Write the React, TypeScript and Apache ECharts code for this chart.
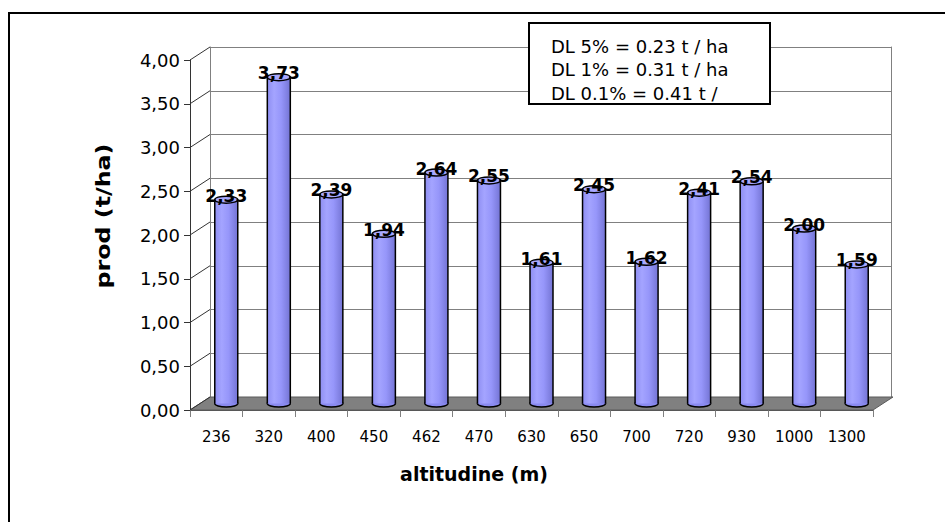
import React, { useEffect, useRef } from "react";
import * as echarts from "echarts";

const categories = ["236", "320", "400", "450", "462", "470", "630", "650", "700", "720", "930", "1000", "1300"];
const values = [2.33, 3.73, 2.39, 1.94, 2.64, 2.55, 1.61, 2.45, 1.62, 2.41, 2.54, 2.0, 1.59];
const yTicks = [0, 0.5, 1, 1.5, 2, 2.5, 3, 3.5, 4];
const dlLines = ["DL 5% = 0.23 t / ha", "DL 1% = 0.31 t / ha", "DL 0.1% = 0.41 t /"];
const xTitle = "altitudine (m)";
const yTitle = "prod (t/ha)";

const DX = 20;
const DY = -13;
const FONT = "DejaVu Sans";

const fmt = (v: number) => v.toFixed(2).replace(".", ",");

export default function App() {
  const ref = useRef<HTMLDivElement>(null);
  useEffect(() => {
    if (!ref.current) return;
    const chart = echarts.init(ref.current, undefined, { renderer: "svg" });
    const bodyGrad = new echarts.graphic.LinearGradient(0, 0, 1, 0, [
      { offset: 0, color: "#8e8ef2" },
      { offset: 0.3, color: "#a4a4ff" },
      { offset: 0.6, color: "#9696fa" },
      { offset: 1, color: "#7474d4" },
    ]);
    const option: any = {
      animation: false,
      grid: [
        { left: 190, top: 60, width: 683, height: 350 },
        { left: 210, top: 47, width: 681, height: 350 },
      ],
      xAxis: [
        {
          type: "category",
          gridIndex: 0,
          data: categories,
          axisLine: { show: true, lineStyle: { color: "#555", width: 1 } },
          axisTick: { show: true, length: 7, lineStyle: { color: "#808080" } },
          axisLabel: { color: "#000", fontFamily: FONT, fontSize: 15, margin: 19, interval: 0 },
          splitLine: { show: false },
        },
        { type: "category", gridIndex: 1, data: categories, show: false },
      ],
      yAxis: [
        {
          type: "value",
          gridIndex: 0,
          min: 0,
          max: 4,
          interval: 0.5,
          axisLine: { show: true, lineStyle: { color: "#333" } },
          axisTick: { show: true, length: 6, lineStyle: { color: "#333" } },
          axisLabel: { color: "#000", fontFamily: FONT, fontSize: 18, margin: 10, formatter: (v: number) => fmt(v) },
          splitLine: { show: false },
        },
        {
          type: "value",
          gridIndex: 1,
          min: 0,
          max: 4,
          interval: 0.5,
          axisLine: { show: true, lineStyle: { color: "#808080" } },
          axisTick: { show: false },
          axisLabel: { show: false },
          splitLine: { show: true, lineStyle: { color: "#808080", width: 1 } },
        },
        {
          type: "value",
          gridIndex: 1,
          position: "right",
          min: 0,
          max: 4,
          interval: 0.5,
          axisLine: { show: true, lineStyle: { color: "#808080" } },
          axisTick: { show: false },
          axisLabel: { show: false },
          splitLine: { show: false },
        },
      ],
      series: [
        {
          type: "custom",
          xAxisIndex: 0,
          yAxisIndex: 0,
          data: [[0, 0]],
          z: 3,
          silent: true,
          renderItem: (params: any, api: any) => {
            const p0 = api.coord([0, 0]);
            const pN = api.coord([categories.length - 1, 0]);
            const bw = api.size([1, 0])[0];
            const xl = p0[0] - bw / 2;
            const xr = pN[0] + bw / 2;
            const y0 = p0[1];
            const children: any[] = [
              {
                type: "polygon",
                shape: { points: [[xl, y0], [xr, y0], [xr + DX, y0 + DY], [xl + DX, y0 + DY]] },
                style: { fill: "#808080", stroke: "#5a5a5a", lineWidth: 1 },
              },
            ];
            yTicks.forEach((t) => {
              const y = api.coord([0, t])[1];
              children.push({
                type: "line",
                shape: { x1: xl, y1: y, x2: xl + DX, y2: y + DY },
                style: { stroke: "#333", lineWidth: 1 },
              });
            });
            return { type: "group", children };
          },
        },
        {
          type: "custom",
          xAxisIndex: 0,
          yAxisIndex: 0,
          data: values.map((v, i) => [i, v]),
          z: 4,
          renderItem: (params: any, api: any) => {
            const i = api.value(0);
            const v = api.value(1);
            const base = api.coord([i, 0]);
            const top = api.coord([i, v]);
            const cx = base[0] + DX / 2;
            const yb = base[1] + DY / 2;
            const yt = top[1] + DY / 2;
            const w = 23;
            const rx = w / 2;
            const ry = 3.5;
            return {
              type: "group",
              children: [
                { type: "ellipse", shape: { cx, cy: yb, rx, ry }, style: { fill: "#8a8af0", stroke: "#000", lineWidth: 1.5 } },
                { type: "rect", shape: { x: cx - rx, y: yt, width: w, height: yb - yt }, style: { fill: bodyGrad } },
                { type: "line", shape: { x1: cx - rx, y1: yt, x2: cx - rx, y2: yb }, style: { stroke: "#000", lineWidth: 1.5 } },
                { type: "line", shape: { x1: cx + rx, y1: yt, x2: cx + rx, y2: yb }, style: { stroke: "#000", lineWidth: 1.5 } },
                { type: "ellipse", shape: { cx, cy: yt, rx, ry }, style: { fill: "#a8a8ff", stroke: "#000", lineWidth: 1.5 } },
                {
                  type: "text",
                  x: cx,
                  y: yt - 4,
                  style: {
                    text: fmt(v),
                    fontFamily: FONT,
                    fontSize: 17,
                    fontWeight: "bold",
                    fill: "#000",
                    align: "center",
                    verticalAlign: "middle",
                  },
                },
              ],
            };
          },
        },
      ],
      graphic: [
        {
          type: "rect",
          z: 1,
          shape: { x: 9, y: 13, width: 980, height: 560 },
          style: { fill: "none", stroke: "#000", lineWidth: 2 },
        },
        {
          type: "rect",
          z: 100,
          shape: { x: 529, y: 23, width: 241, height: 81 },
          style: { fill: "#fff", stroke: "#000", lineWidth: 2 },
        },
        ...dlLines.map((t, k) => ({
          type: "text",
          z: 101,
          x: 551,
          y: 46 + k * 23.5,
          style: { text: t, fontFamily: FONT, fontSize: 18, fill: "#000", align: "left", verticalAlign: "middle" },
        })),
        {
          type: "text",
          z: 101,
          x: 474,
          y: 474,
          style: { text: xTitle, fontFamily: FONT, fontSize: 19, fontWeight: "bold", fill: "#000", align: "center", verticalAlign: "middle" },
        },
        {
          type: "text",
          z: 101,
          x: 103,
          y: 216,
          rotation: Math.PI / 2,
          scaleX: 1.25,
          style: { text: yTitle, fontFamily: FONT, fontSize: 19, fontWeight: "bold", fill: "#000", align: "center", verticalAlign: "middle" },
        },
      ],
    };
    chart.setOption(option);
    return () => chart.dispose();
  }, []);
  return <div ref={ref} style={{ position: "fixed", left: 0, top: 0, width: 945, height: 522, background: "#fff" }} />;
}
